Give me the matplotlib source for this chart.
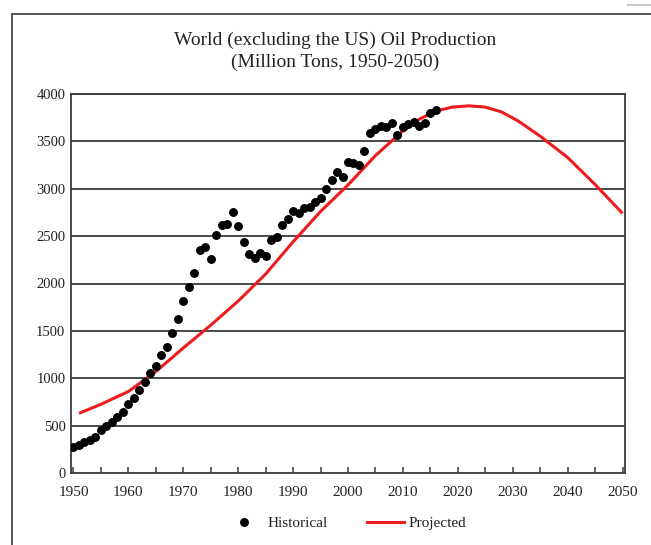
import matplotlib
matplotlib.use("Agg")
import matplotlib.pyplot as plt
from matplotlib.lines import Line2D
from matplotlib.patches import Rectangle

plt.rcParams["font.family"] = ["Liberation Serif", "DejaVu Serif"]

# Historical production, million tons (world excluding the US), 1950-2016
hist_years = list(range(1950, 2017))
hist_values = [
    275, 300, 325, 350, 380, 454, 500, 541, 588, 647,
    728, 788, 876, 964, 1052, 1133, 1245, 1333, 1481, 1630,
    1816, 1960, 2110, 2353, 2382, 2259, 2512, 2617, 2624, 2758,
    2610, 2435, 2311, 2272, 2325, 2293, 2455, 2490, 2617, 2678,
    2768, 2740, 2793, 2804, 2863, 2899, 2997, 3092, 3180, 3121,
    3280, 3269, 3255, 3402, 3585, 3627, 3662, 3655, 3690, 3567,
    3655, 3680, 3708, 3662, 3690, 3796, 3831,
]

# Projected production curve
proj_years = [1951, 1955, 1960, 1965, 1970, 1975, 1980, 1985, 1990, 1995,
              2000, 2005, 2010, 2013, 2016, 2019, 2022, 2025, 2028, 2031,
              2035, 2040, 2045, 2050]
proj_values = [630, 725, 860, 1070, 1320, 1560, 1815, 2100, 2440, 2760,
               3040, 3350, 3610, 3735, 3820, 3862, 3875, 3862, 3810, 3715,
               3555, 3330, 3045, 2740]

x_ticks = list(range(1950, 2051, 10))
y_ticks = list(range(0, 4001, 500))

fig = plt.figure(figsize=(6.51, 5.45), dpi=100)

# outer frame around the chart
fig.patches.append(Rectangle((12 / 651, -0.05), 1.2, 1 - 14 / 545 + 0.05,
                             transform=fig.transFigure, fill=False,
                             edgecolor="#3a3a3a", linewidth=1.2))
fig.lines.append(Line2D([628 / 651, 1.0], [1 - 5 / 545, 1 - 5 / 545],
                        transform=fig.transFigure, color="#c8c8c8", linewidth=1.5))

ax = fig.add_axes([71 / 651, 1 - 473 / 545, (625 - 71) / 651, (473 - 94) / 545])

ax.set_xlim(1949.55, 2050.45)
ax.set_ylim(0, 4000)

for v in y_ticks[1:]:
    ax.axhline(v, color="#3a3a3a", linewidth=1.3, zorder=1)

ax.plot(proj_years, proj_values, color="#ee1c1c", linewidth=2.2, zorder=2,
        solid_capstyle="butt", solid_joinstyle="round")
ax.plot(hist_years, hist_values, linestyle="none", marker="o", markersize=5.4,
        color="black", zorder=3)

ax.set_yticks(y_ticks)
ax.set_yticklabels([str(v) for v in y_ticks])
ax.set_xticks(x_ticks)
ax.set_xticklabels([str(v) for v in x_ticks])
ax.set_xticks(list(range(1955, 2051, 10)), minor=True)
ax.tick_params(axis="x", which="both", direction="in", length=4, width=1.1,
               color="#3a3a3a", labelsize=11, pad=9, labelcolor="#222222")
ax.tick_params(axis="y", length=0, labelsize=10.5, pad=4, labelcolor="#222222")

for s in ax.spines.values():
    s.set_color("#3a3a3a")
    s.set_linewidth(1.3)

fig.text(335 / 651, 1 - 40 / 545, "World (excluding the US) Oil Production",
         ha="center", va="center", fontsize=14, color="#222222")
fig.text(335 / 651, 1 - 62 / 545, "(Million Tons, 1950-2050)",
         ha="center", va="center", fontsize=14, color="#222222")

handles = [
    Line2D([], [], linestyle="none", marker="o", markersize=5.4, color="black",
           label="Historical"),
    Line2D([], [], color="#ee1c1c", linewidth=2.2, label="Projected"),
]
leg = fig.legend(handles=handles, loc="center",
                 bbox_to_anchor=(346 / 651, 1 - 523 / 545),
                 ncol=2, frameon=False, fontsize=11, handlelength=2.4,
                 handletextpad=0.3, columnspacing=2.6)
for t in leg.get_texts():
    t.set_color("#222222")

fig.savefig("out.png", dpi=100)
